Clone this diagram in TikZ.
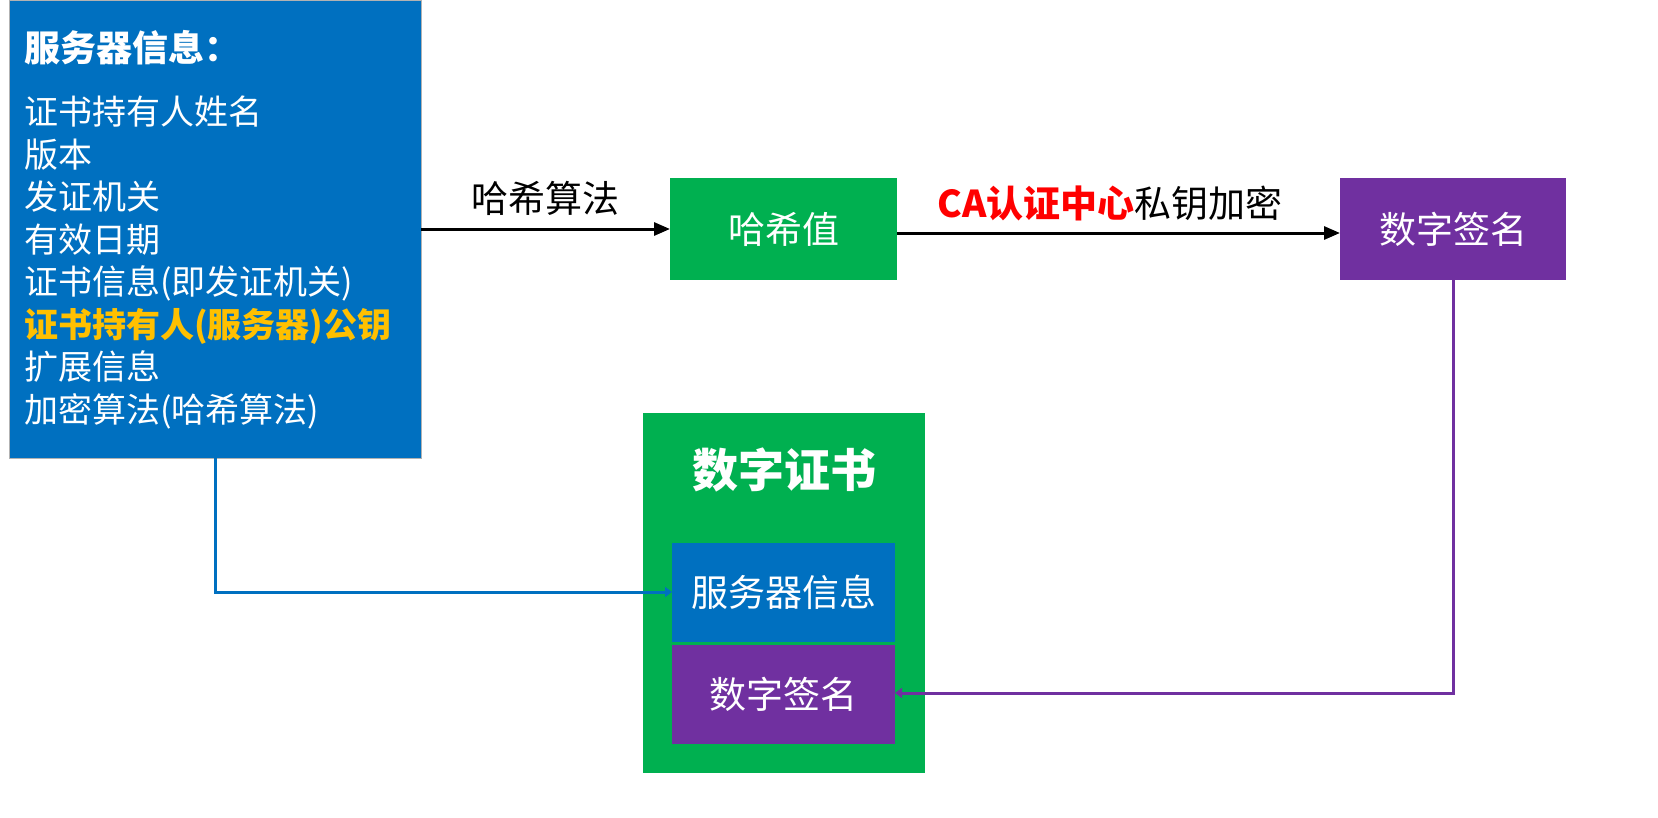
\documentclass[tikz,border=0pt]{standalone}
\usepackage{fontspec}
\setmainfont{Noto Sans CJK SC}
\usetikzlibrary{arrows.meta}
\definecolor{cblue}{HTML}{0070C0}
\definecolor{cgreen}{HTML}{00B050}
\definecolor{cpurple}{HTML}{7030A0}
\definecolor{corange}{HTML}{FFC000}
\begin{document}
\begin{tikzpicture}[x=1pt,y=-1pt,
  box/.style={draw=none,inner sep=0,text=white,font=\fontsize{37}{42}\selectfont},
  arr/.style={-{Triangle[length=16pt,width=13pt]},line width=3pt}]
\useasboundingbox (0,0) rectangle (1658,817);
\fill[cblue] (9,0) rectangle (421,458);
\draw[gray!60] (9,0) rectangle (421,458);
\node[anchor=west,text=white,inner sep=0,font=\fontsize{36}{40}\selectfont\bfseries] (h) at (24,48) {服务器信息：};
\node[anchor=north west,text=white,inner sep=0,align=left,font=\fontsize{34}{42.5}\selectfont] (info) at (24,96) {证书持有人姓名\\版本\\发证机关\\有效日期\\证书信息(即发证机关)\\\textcolor{corange}{\bfseries 证书持有人(服务器)公钥}\\扩展信息\\加密算法(哈希算法)};
\coordinate (srcR) at (421,229);
\fill[cgreen] (670,178) rectangle (897,280);
\node[box] (hash) at (783.5,229) {哈希值};
\fill[cpurple] (1340,178) rectangle (1566,280);
\node[box] (sig) at (1453,229) {数字签名};
\draw[arr] (srcR) -- (670,229);
\node[font=\fontsize{37}{42}\selectfont] (l1) at (545,198) {哈希算法};
\draw[arr] (897,233) -- (1340,233);
\node[font=\fontsize{37}{42}\selectfont] (l2) at (1110,203) {\textcolor{red}{\bfseries CA认证中心}私钥加密};
\fill[cgreen] (643,413) rectangle (925,773);
\node[text=white,font=\fontsize{46}{50}\selectfont\bfseries] (cert) at (784,470) {数字证书};
\fill[cblue] (672,543) rectangle (895,642);
\node[box] (csrv) at (783.5,592.5) {服务器信息};
\fill[cpurple] (672,645) rectangle (895,744);
\node[box] (csig) at (783.5,694.5) {数字签名};
\coordinate (b1) at (215,458);
\draw[cblue,line width=3pt,-{Triangle[length=7pt,width=10pt]}] (b1) -- (215,592) -- (672,592);
\coordinate (p1) at (1453,280);
\draw[cpurple,line width=3pt,-{Triangle[length=7pt,width=10pt]}] (p1) -- (1453,693) -- (895,693);
\end{tikzpicture}
\end{document}
